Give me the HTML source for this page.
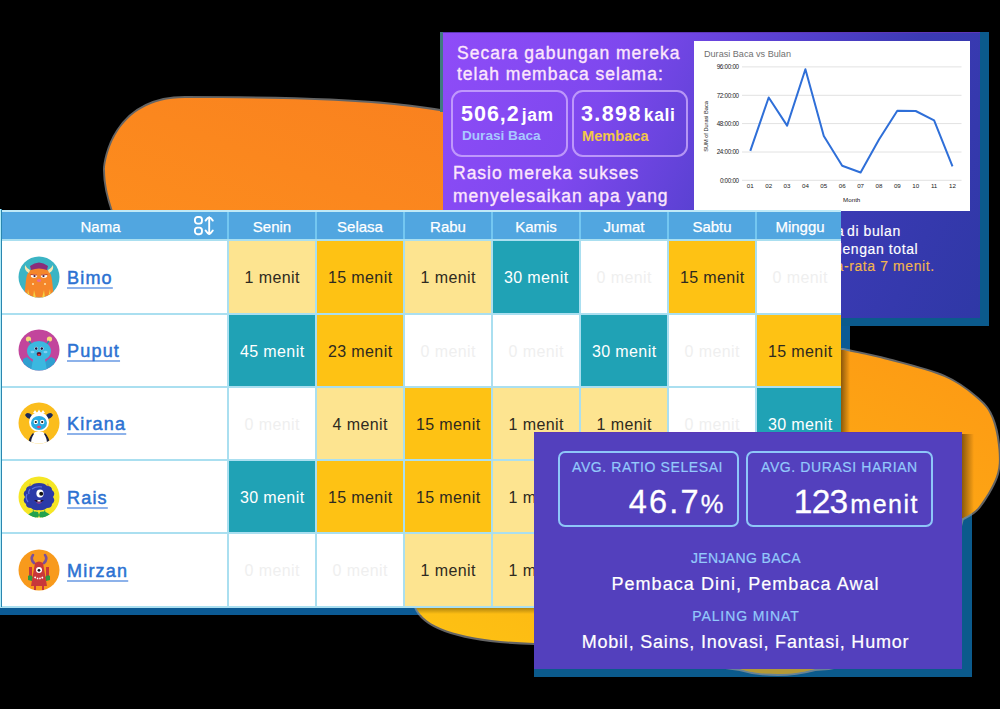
<!DOCTYPE html>
<html><head><meta charset="utf-8"><style>
html,body{margin:0;padding:0}
body{width:1000px;height:709px;background:#000;position:relative;overflow:hidden;font-family:"Liberation Sans", sans-serif}
.abs{position:absolute}
.ht{position:absolute;color:#fff;font-size:15px;text-align:center;line-height:31px;-webkit-text-stroke:0.25px #fff}
.nm{position:absolute;color:#2c72d2;font-size:18px;font-weight:normal;-webkit-text-stroke:0.5px #2c72d2;letter-spacing:1.2px;line-height:20px;text-decoration:underline;text-decoration-color:#8db2ea;text-decoration-thickness:1.5px;text-underline-offset:3px;text-decoration-skip-ink:none}
.cl{position:absolute;font-size:16px;text-align:center;letter-spacing:0.4px;text-indent:0.4px}
.tc{position:absolute;color:#fce6fc;font-size:17.5px;letter-spacing:1px;white-space:nowrap;-webkit-text-stroke:0.35px #fce6fc}
.bx{position:absolute;border:2px solid rgba(215,185,255,0.7);border-radius:11px;box-sizing:border-box}
.bc-box{position:absolute;border:2px solid #8ec6f8;border-radius:7px;box-sizing:border-box}
.lbl{position:absolute;color:#93c9fb;font-size:14px;letter-spacing:0.6px;white-space:nowrap;-webkit-text-stroke:0.2px #93c9fb}
.wt{position:absolute;color:#fff;white-space:nowrap}
.sm{position:absolute;font-size:14px;letter-spacing:0.6px;white-space:nowrap;color:#fff;line-height:17px;-webkit-text-stroke:0.15px #fff}
</style></head><body>

<!-- blob 1 -->
<svg class="abs" style="left:0;top:0" width="1000" height="709">
<defs><linearGradient id="g1" x1="1" y1="0" x2="0" y2="1"><stop offset="0" stop-color="#f9811f"/><stop offset="1" stop-color="#fd8d1d"/></linearGradient></defs>
<path d="M114 214 C109 200 105 185 105 170 C105 162 113 98 185 98 C290 98 380 100 446 112 L446 230 L116 230 Z" fill="url(#g1)" stroke="#999" stroke-opacity="0.65" stroke-width="4" paint-order="stroke"/>
</svg>

<!-- shadows (under blob2) -->
<div class="abs" style="left:0;top:218px;width:850px;height:397px;background:#0b5a94"></div>
<div class="abs" style="left:534px;top:440px;width:438px;height:237px;background:#0b5a8c"></div>

<!-- top card -->
<div class="abs" style="left:440px;top:32px;width:4px;height:80px;background:#3f7a80"></div>
<div class="abs" style="left:443px;top:32px;width:537px;height:286px;border-right:9px solid #0b5a8c;border-bottom:8px solid #0b5a8c;box-shadow:inset 0 1px 0 #5d36b8;background:linear-gradient(115deg,#8f4cf8 0%,#7e48ee 28%,#5a41d2 50%,#3b3ab4 72%,#2f38a6 100%)"></div>

<!-- top card text -->
<div class="tc" style="left:457px;top:43px;line-height:21px">Secara gabungan mereka<br>telah membaca selama:</div>
<div class="bx" style="left:451px;top:89.5px;width:116.5px;height:67px"></div>
<div class="bx" style="left:572px;top:89.5px;width:115.5px;height:67px"></div>
<div class="wt" style="left:461px;top:101.5px;font-size:21.5px;font-weight:bold;letter-spacing:1px;line-height:24px">506,2<span style="font-size:17.5px;letter-spacing:0.5px;margin-left:2px">jam</span></div>
<div class="wt" style="left:462px;top:127px;font-size:13.6px;font-weight:bold;color:#a9c8ff;line-height:18px">Durasi Baca</div>
<div class="wt" style="left:581px;top:101.5px;font-size:21.5px;font-weight:bold;letter-spacing:1.4px;line-height:24px">3.898<span style="font-size:17.5px;letter-spacing:0.6px;margin-left:2px">kali</span></div>
<div class="wt" style="left:582px;top:127px;font-size:14.6px;font-weight:bold;color:#f3c74a;line-height:18px">Membaca</div>
<div class="tc" style="left:453px;top:162px;line-height:22.5px">Rasio mereka sukses<br>menyelesaikan apa yang<br>mereka baca adalah 46,7%.</div>
<div class="sm" style="left:836px;top:223px">a</div>
<div class="sm" style="left:847px;top:223px">di bulan</div>
<div class="sm" style="left:834px;top:241px">dengan total</div>
<div class="sm" style="left:831px;top:258px;color:#f1b54e;-webkit-text-stroke:0.15px #f1b54e">ta-rata 7 menit.</div>

<svg style="position:absolute;left:694px;top:41px" width="276" height="170" viewBox="0 0 276 170">
<rect width="276" height="170" fill="#fff"/>
<text x="10" y="16.299999999999997" font-family="Liberation Sans" font-size="9.1" fill="#707070">Durasi Baca vs Bulan</text>
<line x1="48" x2="267.5" y1="25.900000000000006" y2="25.900000000000006" stroke="#e2e2e2" stroke-width="1"/>
<text x="44.799999999999955" y="28.100000000000005" text-anchor="end" font-family="Liberation Sans" font-size="6.3" letter-spacing="-0.3" fill="#222">96:00:00</text>
<line x1="48" x2="267.5" y1="54.3" y2="54.3" stroke="#e2e2e2" stroke-width="1"/>
<text x="44.799999999999955" y="56.5" text-anchor="end" font-family="Liberation Sans" font-size="6.3" letter-spacing="-0.3" fill="#222">72:00:00</text>
<line x1="48" x2="267.5" y1="82.6" y2="82.6" stroke="#e2e2e2" stroke-width="1"/>
<text x="44.799999999999955" y="84.8" text-anchor="end" font-family="Liberation Sans" font-size="6.3" letter-spacing="-0.3" fill="#222">48:00:00</text>
<line x1="48" x2="267.5" y1="111.0" y2="111.0" stroke="#e2e2e2" stroke-width="1"/>
<text x="44.799999999999955" y="113.2" text-anchor="end" font-family="Liberation Sans" font-size="6.3" letter-spacing="-0.3" fill="#222">24:00:00</text>
<line x1="48" x2="267.5" y1="139.3" y2="139.3" stroke="#e2e2e2" stroke-width="1"/>
<text x="44.799999999999955" y="141.5" text-anchor="end" font-family="Liberation Sans" font-size="6.3" letter-spacing="-0.3" fill="#222">0:00:00</text>
<text x="56.299999999999955" y="147" text-anchor="middle" font-family="Liberation Sans" font-size="6.2" fill="#222">01</text>
<text x="74.67999999999995" y="147" text-anchor="middle" font-family="Liberation Sans" font-size="6.2" fill="#222">02</text>
<text x="93.05999999999995" y="147" text-anchor="middle" font-family="Liberation Sans" font-size="6.2" fill="#222">03</text>
<text x="111.43999999999994" y="147" text-anchor="middle" font-family="Liberation Sans" font-size="6.2" fill="#222">04</text>
<text x="129.81999999999994" y="147" text-anchor="middle" font-family="Liberation Sans" font-size="6.2" fill="#222">05</text>
<text x="148.19999999999993" y="147" text-anchor="middle" font-family="Liberation Sans" font-size="6.2" fill="#222">06</text>
<text x="166.57999999999993" y="147" text-anchor="middle" font-family="Liberation Sans" font-size="6.2" fill="#222">07</text>
<text x="184.95999999999992" y="147" text-anchor="middle" font-family="Liberation Sans" font-size="6.2" fill="#222">08</text>
<text x="203.33999999999992" y="147" text-anchor="middle" font-family="Liberation Sans" font-size="6.2" fill="#222">09</text>
<text x="221.7199999999999" y="147" text-anchor="middle" font-family="Liberation Sans" font-size="6.2" fill="#222">10</text>
<text x="240.0999999999999" y="147" text-anchor="middle" font-family="Liberation Sans" font-size="6.2" fill="#222">11</text>
<text x="258.4799999999999" y="147" text-anchor="middle" font-family="Liberation Sans" font-size="6.2" fill="#222">12</text>
<text x="157.70000000000005" y="160.5" text-anchor="middle" font-family="Liberation Sans" font-size="6.2" fill="#222">Month</text>
<text transform="translate(14,85.5) rotate(-90)" text-anchor="middle" font-family="Liberation Sans" font-size="5.6" fill="#222">SUM of Durasi Baca</text>
<polyline points="56.3,109.8 74.7,56.5 93.1,84.6 111.4,28.2 129.8,94.9 148.2,124.8 166.6,131.5 185.0,98.5 203.3,69.7 221.7,70.0 240.1,79.3 258.5,125.3" fill="none" stroke="#2f6fd8" stroke-width="2" stroke-linejoin="round"/>
</svg>

<!-- blob 2 -->
<svg class="abs" style="left:0;top:0" width="1000" height="709">
<defs><linearGradient id="g2" x1="1" y1="0" x2="0" y2="1"><stop offset="0" stop-color="#fd9814"/><stop offset="1" stop-color="#fdc413"/></linearGradient>
<clipPath id="b2c"><path id="b2p" d="M843.0 350.0 C850.4 351.7 870.7 355.5 887.5 360.0 C904.3 364.5 929.0 370.3 944.0 376.8 C959.0 383.3 969.5 392.1 977.5 399.0 C985.5 405.9 988.5 409.9 992.0 418.4 C995.5 426.9 997.8 440.3 998.5 450.0 C999.2 459.7 999.4 467.3 996.0 476.8 C992.6 486.3 984.1 500.2 978.4 507.2 C972.7 514.2 964.7 516.7 962.0 518.6 L940 600 C900 650 850 668 815 669 C800 673 790 674 778 674 C760 674 750 672 740 669 C680 660 600 652 534 643 C470 641 425 630 416 607 L416 350 L843 350 Z"/></clipPath>
<linearGradient id="shr" x1="0" y1="0" x2="1" y2="0"><stop offset="0" stop-color="#000" stop-opacity="0.45"/><stop offset="1" stop-color="#000" stop-opacity="0"/></linearGradient>
<linearGradient id="shb" x1="0" y1="0" x2="0" y2="1"><stop offset="0" stop-color="#000" stop-opacity="0.4"/><stop offset="1" stop-color="#000" stop-opacity="0"/></linearGradient>
</defs>
<path d="M843.0 350.0 C850.4 351.7 870.7 355.5 887.5 360.0 C904.3 364.5 929.0 370.3 944.0 376.8 C959.0 383.3 969.5 392.1 977.5 399.0 C985.5 405.9 988.5 409.9 992.0 418.4 C995.5 426.9 997.8 440.3 998.5 450.0 C999.2 459.7 999.4 467.3 996.0 476.8 C992.6 486.3 984.1 500.2 978.4 507.2 C972.7 514.2 964.7 516.7 962.0 518.6 L940 600 C900 650 850 668 815 669 C800 673 790 674 778 674 C760 674 750 672 740 669 C680 660 600 652 534 643 C470 641 425 630 416 607 L416 350 L843 350 Z" fill="url(#g2)" stroke="#999" stroke-opacity="0.65" stroke-width="4" paint-order="stroke"/>
<g clip-path="url(#b2c)">
<rect x="841" y="330" width="9" height="200" fill="url(#shr)"/>
<rect x="962" y="434" width="12" height="120" fill="url(#shr)"/>
<rect x="400" y="606" width="140" height="8" fill="url(#shb)"/>
<rect x="534" y="669" width="440" height="8" fill="#0b5a8c" fill-opacity="0.3"/>
</g>
</svg>

<!-- table -->
<div class="abs" style="left:0;top:0;width:841px;height:709px;overflow:hidden">
<div style="position:absolute;left:0;top:211px;width:844px;height:29px;background:#51a6e0"></div>
<div class="ht" style="left:0;width:228px;top:211px;height:29px;padding-right:27px;box-sizing:border-box">Nama</div>
<svg style="position:absolute;left:193.8px;top:216.4px" width="21" height="20" viewBox="0 0 21 20" fill="none" stroke="#fff" stroke-width="1.9">
<rect x="0.95" y="0.95" width="7" height="6.7" rx="2.6"/><rect x="0.95" y="11.6" width="7" height="6.6" rx="2.6"/>
<path d="M15.2 1.2 L15.2 18 M11.6 4.6 Q13.6 1.6 15.2 1.1 Q16.8 1.6 18.8 4.6 M11.6 14.5 Q13.6 17.5 15.2 18.1 Q16.8 17.5 18.8 14.5" stroke-linecap="round" stroke-linejoin="round"/></svg>
<div class="ht" style="left:228px;width:88px;top:211px;height:29px">Senin</div>
<div class="ht" style="left:316px;width:88px;top:211px;height:29px">Selasa</div>
<div class="ht" style="left:404px;width:88px;top:211px;height:29px">Rabu</div>
<div class="ht" style="left:492px;width:88px;top:211px;height:29px">Kamis</div>
<div class="ht" style="left:580px;width:88px;top:211px;height:29px">Jumat</div>
<div class="ht" style="left:668px;width:88px;top:211px;height:29px">Sabtu</div>
<div class="ht" style="left:756px;width:88px;top:211px;height:29px">Minggu</div>
<div style="position:absolute;left:0;top:240px;width:228px;height:73.5px;background:#fff"></div>
<div style="position:absolute;left:18px;top:255.75px;width:42px;height:42px"><svg width="42" height="42" viewBox="0 0 42 42"><defs><clipPath id="cb"><circle cx="21" cy="21" r="20.5"/></clipPath></defs>
<circle cx="21" cy="21" r="20.5" fill="#3bb4c4"/><g clip-path="url(#cb)">
<path d="M6 42 L8 24 Q9 12 21 11 Q33 12 34 24 L36 42 Z" fill="#f5862a"/>
<path d="M12 10 Q21 3 30 10 L29 14 Q21 11 13 14 Z" fill="#8a2d7a"/>
<path d="M7 9 Q6 15 11 17 L12 14 Q9 13 7 9Z M35 9 Q36 15 31 17 L30 14 Q33 13 35 9Z" fill="#f9e7b0"/>
<ellipse cx="16" cy="20" rx="3.2" ry="1.8" fill="#fff"/><ellipse cx="26" cy="20" rx="3.2" ry="1.8" fill="#fff"/>
<circle cx="16.5" cy="20" r="1.1" fill="#2a1a3a"/><circle cx="25.5" cy="20" r="1.1" fill="#2a1a3a"/>
<path d="M12.5 18.5 L19 19 M23 19 L29.5 18.5" stroke="#c2452a" stroke-width="1.2"/>
<ellipse cx="21" cy="24.5" rx="2" ry="1.5" fill="#e96aa0"/>
<circle cx="15" cy="28" r="1" fill="#fde4b0"/><circle cx="27" cy="28" r="1" fill="#fde4b0"/>
<path d="M9 42 L10 33 L12 42 M15 42 L16 34 L18 42 M24 42 L26 34 L27 42 M30 42 L32 33 L33 42" fill="#f5d243"/>
</g></svg></div>
<div class="nm" style="left:67px;top:267.75px">Bimo</div>
<div class="cl" style="left:228px;top:240px;width:88px;height:73.5px;background:#fde490;color:#2e2a20;line-height:76.5px">1 menit</div>
<div class="cl" style="left:316px;top:240px;width:88px;height:73.5px;background:#fec214;color:#2e2a20;line-height:76.5px">15 menit</div>
<div class="cl" style="left:404px;top:240px;width:88px;height:73.5px;background:#fde490;color:#2e2a20;line-height:76.5px">1 menit</div>
<div class="cl" style="left:492px;top:240px;width:88px;height:73.5px;background:#20a2b5;color:#ffffff;line-height:76.5px">30 menit</div>
<div class="cl" style="left:580px;top:240px;width:88px;height:73.5px;background:#ffffff;color:#efefef;line-height:76.5px">0 menit</div>
<div class="cl" style="left:668px;top:240px;width:88px;height:73.5px;background:#fec214;color:#2e2a20;line-height:76.5px">15 menit</div>
<div class="cl" style="left:756px;top:240px;width:88px;height:73.5px;background:#ffffff;color:#efefef;line-height:76.5px">0 menit</div>
<div style="position:absolute;left:0;top:313.5px;width:228px;height:73.25px;background:#fff"></div>
<div style="position:absolute;left:18px;top:329.12px;width:42px;height:42px"><svg width="42" height="42" viewBox="0 0 42 42"><defs><clipPath id="cp"><circle cx="21" cy="21" r="20.5"/></clipPath></defs>
<circle cx="21" cy="21" r="20.5" fill="#c2459c"/><g clip-path="url(#cp)">
<circle cx="10.5" cy="10" r="2.6" fill="#f5d77a"/><circle cx="31.5" cy="10" r="2.6" fill="#f5d77a"/>
<path d="M11 12 L14 16 M31 12 L28 16" stroke="#2a8fa8" stroke-width="1.5"/>
<ellipse cx="21" cy="22" rx="12" ry="10" fill="#3bb8e0"/>
<path d="M5 30 L9 28 L17 35 L14 42 L4 42 Z M37 30 L33 28 L25 35 L28 42 L38 42 Z" fill="#2f9fd0"/>
<path d="M15 30 Q21 28 27 30 L29 42 L13 42 Z" fill="#3bb8e0"/>
<circle cx="18.2" cy="19.5" r="1.7" fill="#fff"/><circle cx="23.8" cy="19.5" r="1.7" fill="#fff"/>
<circle cx="18.2" cy="19.6" r="1.3" fill="#1d1340"/><circle cx="23.8" cy="19.6" r="1.3" fill="#1d1340"/>
<ellipse cx="21" cy="25" rx="2.4" ry="2" fill="#5a1530"/><ellipse cx="21" cy="25.8" rx="1.4" ry="0.9" fill="#e44"/>
<ellipse cx="14.5" cy="23" rx="2" ry="1.3" fill="#7fd0f2"/><ellipse cx="27.5" cy="23" rx="2" ry="1.3" fill="#7fd0f2"/>
</g></svg></div>
<div class="nm" style="left:67px;top:341.12px">Puput</div>
<div class="cl" style="left:228px;top:313.5px;width:88px;height:73.25px;background:#20a2b5;color:#ffffff;line-height:76.25px">45 menit</div>
<div class="cl" style="left:316px;top:313.5px;width:88px;height:73.25px;background:#fec214;color:#2e2a20;line-height:76.25px">23 menit</div>
<div class="cl" style="left:404px;top:313.5px;width:88px;height:73.25px;background:#ffffff;color:#efefef;line-height:76.25px">0 menit</div>
<div class="cl" style="left:492px;top:313.5px;width:88px;height:73.25px;background:#ffffff;color:#efefef;line-height:76.25px">0 menit</div>
<div class="cl" style="left:580px;top:313.5px;width:88px;height:73.25px;background:#20a2b5;color:#ffffff;line-height:76.25px">30 menit</div>
<div class="cl" style="left:668px;top:313.5px;width:88px;height:73.25px;background:#ffffff;color:#efefef;line-height:76.25px">0 menit</div>
<div class="cl" style="left:756px;top:313.5px;width:88px;height:73.25px;background:#fec214;color:#2e2a20;line-height:76.25px">15 menit</div>
<div style="position:absolute;left:0;top:386.75px;width:228px;height:73.25px;background:#fff"></div>
<div style="position:absolute;left:18px;top:402.38px;width:42px;height:42px"><svg width="42" height="42" viewBox="0 0 42 42"><defs><clipPath id="ck"><circle cx="21" cy="21" r="20.5"/></clipPath></defs>
<circle cx="21" cy="21" r="20.5" fill="#fbbd1c"/><g clip-path="url(#ck)">
<path d="M7 13 Q9 9 14 13 L13 17 Q9 17 7 13Z M35 13 Q33 9 28 13 L29 17 Q33 17 35 13Z" fill="#1a2a5a"/>
<circle cx="21" cy="20" r="10" fill="#fff"/>
<path d="M15 11 L17 8 L19 11 L21 7.5 L23 11 L25 8 L27 11 Z" fill="#fff"/>
<ellipse cx="21" cy="21" rx="8" ry="7" fill="#2aaae2"/>
<circle cx="17.8" cy="20" r="2.2" fill="#fff"/><circle cx="24.2" cy="20" r="2.2" fill="#fff"/>
<circle cx="17.8" cy="20" r="1.1" fill="#111"/><circle cx="24.2" cy="20" r="1.1" fill="#111"/>
<ellipse cx="21" cy="25" rx="2" ry="1.2" fill="#ef3f6a"/>
<path d="M12 42 Q13 33 17 30 L25 30 Q29 33 30 42 Z" fill="#fff"/>
<path d="M10 42 Q11 35 15 31 L16 32 Q13 36 13 42 Z M32 42 Q31 35 27 31 L26 32 Q29 36 29 42 Z" fill="#1a2040"/>
</g></svg></div>
<div class="nm" style="left:67px;top:414.38px">Kirana</div>
<div class="cl" style="left:228px;top:386.75px;width:88px;height:73.25px;background:#ffffff;color:#efefef;line-height:76.25px">0 menit</div>
<div class="cl" style="left:316px;top:386.75px;width:88px;height:73.25px;background:#fde490;color:#2e2a20;line-height:76.25px">4 menit</div>
<div class="cl" style="left:404px;top:386.75px;width:88px;height:73.25px;background:#fec214;color:#2e2a20;line-height:76.25px">15 menit</div>
<div class="cl" style="left:492px;top:386.75px;width:88px;height:73.25px;background:#fde490;color:#2e2a20;line-height:76.25px">1 menit</div>
<div class="cl" style="left:580px;top:386.75px;width:88px;height:73.25px;background:#fde490;color:#2e2a20;line-height:76.25px">1 menit</div>
<div class="cl" style="left:668px;top:386.75px;width:88px;height:73.25px;background:#ffffff;color:#efefef;line-height:76.25px">0 menit</div>
<div class="cl" style="left:756px;top:386.75px;width:88px;height:73.25px;background:#20a2b5;color:#ffffff;line-height:76.25px">30 menit</div>
<div style="position:absolute;left:0;top:460px;width:228px;height:73.25px;background:#fff"></div>
<div style="position:absolute;left:18px;top:475.62px;width:42px;height:42px"><svg width="42" height="42" viewBox="0 0 42 42"><defs><clipPath id="cr"><circle cx="21" cy="21" r="20.5"/></clipPath></defs>
<circle cx="21" cy="21" r="20.5" fill="#f5e625"/><g clip-path="url(#cr)">
<path d="M10 13 L12 7 L15 12 Z M32 13 L30 7 L27 12 Z" fill="#d9a63a"/>
<path d="M14 42 L15 33 L18 42 Z M24 42 L27 33 L28 42 Z" fill="#1f9a4a"/>
<path d="M9 40 Q14 34 20 36 L22 42 L8 42Z M33 40 Q28 34 22 36 L20 42 L34 42Z" fill="#22a24e"/>
<path d="M21 7 Q27 7 29 10 Q34 10 34 14 Q38 17 35 21 Q38 25 34 28 Q34 32 29 32 Q25 35 21 34 Q16 35 13 32 Q8 32 8 28 Q4 25 7 21 Q4 17 8 14 Q8 10 13 10 Q15 7 21 7Z" fill="#2b3aa8"/><path d="M9 18 Q7 22 10 26 M12 13 Q10 16 11 18" stroke="#5a70e0" stroke-width="1.3" fill="none"/>
<path d="M14 13 Q18 10 24 11" stroke="#5f74e0" stroke-width="1.2" fill="none"/>
<ellipse cx="22" cy="17.5" rx="3.6" ry="4" fill="#fff"/><circle cx="23.2" cy="17.8" r="2" fill="#111"/>
<path d="M16 24 Q21 29 26 24 Z" fill="#2a0f2a"/><path d="M18 26.5 Q21 28.5 24 26.5 Z" fill="#e0408a"/>
<rect x="19.5" y="24" width="3" height="1.6" fill="#fff"/>
</g></svg></div>
<div class="nm" style="left:67px;top:487.62px">Rais</div>
<div class="cl" style="left:228px;top:460px;width:88px;height:73.25px;background:#20a2b5;color:#ffffff;line-height:76.25px">30 menit</div>
<div class="cl" style="left:316px;top:460px;width:88px;height:73.25px;background:#fec214;color:#2e2a20;line-height:76.25px">15 menit</div>
<div class="cl" style="left:404px;top:460px;width:88px;height:73.25px;background:#fec214;color:#2e2a20;line-height:76.25px">15 menit</div>
<div class="cl" style="left:492px;top:460px;width:88px;height:73.25px;background:#fde490;color:#2e2a20;line-height:76.25px">1 menit</div>
<div class="cl" style="left:580px;top:460px;width:88px;height:73.25px;background:#ffffff;color:#efefef;line-height:76.25px">0 menit</div>
<div class="cl" style="left:668px;top:460px;width:88px;height:73.25px;background:#ffffff;color:#efefef;line-height:76.25px">0 menit</div>
<div class="cl" style="left:756px;top:460px;width:88px;height:73.25px;background:#ffffff;color:#efefef;line-height:76.25px">0 menit</div>
<div style="position:absolute;left:0;top:533.25px;width:228px;height:73.25px;background:#fff"></div>
<div style="position:absolute;left:18px;top:548.88px;width:42px;height:42px"><svg width="42" height="42" viewBox="0 0 42 42"><defs><clipPath id="cm"><circle cx="21" cy="21" r="20.5"/></clipPath></defs>
<circle cx="21" cy="21" r="20.5" fill="#f89a1c"/><g clip-path="url(#cm)">
<path d="M16 14 Q12 10 15 6 M26 14 Q30 10 27 6" stroke="#7a4f9a" stroke-width="2.6" fill="none" stroke-linecap="round"/>
<path d="M11 18 L11 28 L14 28 L14 18 Z M31 18 L31 28 L28 28 L28 18 Z" fill="#c8383a"/>
<path d="M10 27 Q12 25 15 28 L14 32 L10 31 Z M32 27 Q30 25 27 28 L28 32 L32 31 Z" fill="#2f9a3e"/>
<path d="M17 14 Q21 11 25 14 L29 37 L13 37 Z" fill="#c8383a"/>
<circle cx="21" cy="21" r="3" fill="#fff"/><circle cx="21" cy="21.3" r="1.4" fill="#111"/>
<path d="M16.5 28 Q21 31 25.5 28" stroke="#fff" stroke-width="1.6" fill="none" stroke-dasharray="1.5 1"/>
<path d="M17 37 L17 41 M25 37 L25 41" stroke="#c8383a" stroke-width="2"/>
</g></svg></div>
<div class="nm" style="left:67px;top:560.88px">Mirzan</div>
<div class="cl" style="left:228px;top:533.25px;width:88px;height:73.25px;background:#ffffff;color:#efefef;line-height:76.25px">0 menit</div>
<div class="cl" style="left:316px;top:533.25px;width:88px;height:73.25px;background:#ffffff;color:#efefef;line-height:76.25px">0 menit</div>
<div class="cl" style="left:404px;top:533.25px;width:88px;height:73.25px;background:#fde490;color:#2e2a20;line-height:76.25px">1 menit</div>
<div class="cl" style="left:492px;top:533.25px;width:88px;height:73.25px;background:#fde490;color:#2e2a20;line-height:76.25px">1 menit</div>
<div class="cl" style="left:580px;top:533.25px;width:88px;height:73.25px;background:#ffffff;color:#efefef;line-height:76.25px">0 menit</div>
<div class="cl" style="left:668px;top:533.25px;width:88px;height:73.25px;background:#ffffff;color:#efefef;line-height:76.25px">0 menit</div>
<div class="cl" style="left:756px;top:533.25px;width:88px;height:73.25px;background:#ffffff;color:#efefef;line-height:76.25px">0 menit</div>
<div style="position:absolute;left:227px;top:211px;width:2px;height:29px;background:#74c7f1"></div>
<div style="position:absolute;left:227px;top:240px;width:2px;height:366.5px;background:#aadff0"></div>
<div style="position:absolute;left:315px;top:211px;width:2px;height:29px;background:#74c7f1"></div>
<div style="position:absolute;left:315px;top:240px;width:2px;height:366.5px;background:#aadff0"></div>
<div style="position:absolute;left:403px;top:211px;width:2px;height:29px;background:#74c7f1"></div>
<div style="position:absolute;left:403px;top:240px;width:2px;height:366.5px;background:#aadff0"></div>
<div style="position:absolute;left:491px;top:211px;width:2px;height:29px;background:#74c7f1"></div>
<div style="position:absolute;left:491px;top:240px;width:2px;height:366.5px;background:#aadff0"></div>
<div style="position:absolute;left:579px;top:211px;width:2px;height:29px;background:#74c7f1"></div>
<div style="position:absolute;left:579px;top:240px;width:2px;height:366.5px;background:#aadff0"></div>
<div style="position:absolute;left:667px;top:211px;width:2px;height:29px;background:#74c7f1"></div>
<div style="position:absolute;left:667px;top:240px;width:2px;height:366.5px;background:#aadff0"></div>
<div style="position:absolute;left:755px;top:211px;width:2px;height:29px;background:#74c7f1"></div>
<div style="position:absolute;left:755px;top:240px;width:2px;height:366.5px;background:#aadff0"></div>
<div style="position:absolute;left:0;top:239.00px;width:844px;height:2px;background:#aadff0"></div>
<div style="position:absolute;left:0;top:312.50px;width:844px;height:2px;background:#aadff0"></div>
<div style="position:absolute;left:0;top:385.75px;width:844px;height:2px;background:#aadff0"></div>
<div style="position:absolute;left:0;top:459.00px;width:844px;height:2px;background:#aadff0"></div>
<div style="position:absolute;left:0;top:532.25px;width:844px;height:2px;background:#aadff0"></div>
<div style="position:absolute;left:0;top:605.50px;width:844px;height:2px;background:#aadff0"></div>
<div style="position:absolute;left:0;top:209.5px;width:844px;height:2px;background:#bfe9f7"></div>
<div style="position:absolute;left:0;top:209px;width:1px;height:397.5px;background:#b0ecf8"></div>
<div style="position:absolute;left:1px;top:209px;width:1.2px;height:397.5px;background:#2a86b0"></div>
</div>

<!-- bottom card -->
<div class="abs" style="left:534px;top:432px;width:428px;height:237px;background:#5340bd;box-shadow:inset 0 1px 0 #5a38b8"></div>
<div class="bc-box" style="left:558px;top:451px;width:181px;height:76px"></div>
<div class="bc-box" style="left:746px;top:451px;width:187px;height:76px"></div>
<div class="lbl" style="left:572px;top:459px">AVG. RATIO SELESAI</div>
<div class="lbl" style="left:761px;top:459px">AVG. DURASI HARIAN</div>
<div class="wt" style="right:276.5px;top:484px;font-size:32.5px;letter-spacing:2.2px;line-height:36px;-webkit-text-stroke:0.3px #fff">46.7<span style="font-size:25.5px;letter-spacing:0">%</span></div>
<div class="wt" style="right:81px;top:483.5px;font-size:33.5px;letter-spacing:-0.8px;line-height:36px;-webkit-text-stroke:0.3px #fff">123<span style="font-size:25px;letter-spacing:1.5px;margin-left:3px">menit</span></div>
<div class="lbl" style="left:532px;width:428px;text-align:center;top:550px;letter-spacing:0.35px">JENJANG BACA</div>
<div class="wt" style="left:531.5px;width:428px;text-align:center;top:574px;font-size:18px;letter-spacing:1.05px;-webkit-text-stroke:0.2px #fff">Pembaca Dini, Pembaca Awal</div>
<div class="lbl" style="left:532px;width:428px;text-align:center;top:608px;letter-spacing:0.9px">PALING MINAT</div>
<div class="wt" style="left:531.5px;width:428px;text-align:center;top:632px;font-size:18px;letter-spacing:0.8px;-webkit-text-stroke:0.2px #fff">Mobil, Sains, Inovasi, Fantasi, Humor</div>

</body></html>
